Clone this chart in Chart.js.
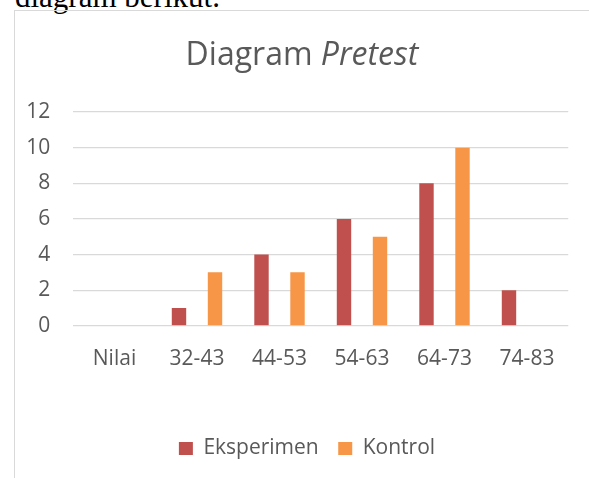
<!DOCTYPE html>
<html lang="id">
<head>
    <meta charset="utf-8">
    <title>Diagram Pretest</title>
    <script src="https://cdn.jsdelivr.net/npm/chart.js"></script>
<style>
        body {
            margin: 0;
            background: white;
            overflow: hidden;
            width: 589px;
            height: 478px;
            position: relative;
        }
        .intro {
            position: absolute;
            left: 15px;
            top: -19px;
            font-family: "Liberation Serif", serif;
            font-size: 31px;
            line-height: 31px;
            color: #000;
            white-space: nowrap;
        }
        .frame {
            position: absolute;
            left: 14px;
            top: 10px;
            width: 600px;
            height: 500px;
            border-left: 1px solid #d9d9d9;
            border-top: 1px solid #d9d9d9;
        }
        #chartBox {
            position: absolute;
            left: 0;
            top: 0;
            width: 574px;
            height: 467px;
        }
        .chart-title {
            position: absolute;
            left: 0;
            top: 23.6px;
            width: 574px;
            text-align: center;
            font-family: "Open Sans", sans-serif;
            font-size: 32px;
            line-height: 36px;
            color: #595959;
        }
    </style>
</head>
<body>
    <div class="intro">diagram berikut.</div>
    <div class="frame">
        <div id="chartBox"><canvas id="pretestChart" width="574" height="467"></canvas></div>
        <div class="chart-title">Diagram <i>Pretest</i></div>
    </div>

    <script>
        const categories = ['Nilai', '32-43', '44-53', '54-63', '64-73', '74-83'];
        const eksperimen = [null, 1, 4, 6, 8, 2];
        const kontrol = [null, 3, 3, 5, 10, null];
        const yTicks = [0, 2, 4, 6, 8, 10, 12];

        Chart.defaults.font.family = "'Open Sans', sans-serif";
        Chart.defaults.color = '#595959';

        new Chart(document.getElementById('pretestChart'), {
            type: 'bar',
            data: {
                labels: categories,
                datasets: [
                    {
                        label: 'Eksperimen',
                        data: eksperimen,
                        backgroundColor: '#C0504D',
                        categoryPercentage: 0.873,
                        barPercentage: 0.4
                    },
                    {
                        label: 'Kontrol',
                        data: kontrol,
                        backgroundColor: '#F79646',
                        categoryPercentage: 0.873,
                        barPercentage: 0.4
                    }
                ]
            },
            options: {
                responsive: false,
                animation: false,
                layout: {
                    padding: { top: 101, left: 10, right: 0, bottom: 9 }
                },
                plugins: {
                    legend: {
                        position: 'bottom',
                        labels: {
                            font: { size: 21 },
                            boxWidth: 14,
                            boxHeight: 13,
                            padding: 19.5
                        }
                    },
                    tooltip: { enabled: false }
                },
                scales: {
                    x: {
                        grid: { display: false },
                        border: { display: false },
                        ticks: { font: { size: 21 }, padding: 13, maxRotation: 0 },
                        afterFit: function(scale) { scale.height = 92.7; }
                    },
                    y: {
                        min: 0,
                        max: 12,
                        afterBuildTicks: function(scale) {
                            scale.ticks = yTicks.map(v => ({ value: v }));
                        },
                        grid: { color: '#d9d9d9', lineWidth: 1.3, drawTicks: false },
                        border: { display: false },
                        ticks: { font: { size: 21 }, padding: 23 },
                        afterFit: function(scale) { scale.width = 48.25; }
                    },
                    yRight: {
                        position: 'right',
                        grid: { display: false },
                        border: { display: false },
                        ticks: { display: false },
                        afterFit: function(scale) { scale.width = 20.75; }
                    }
                }
            }
        });
    </script>
</body>
</html>
